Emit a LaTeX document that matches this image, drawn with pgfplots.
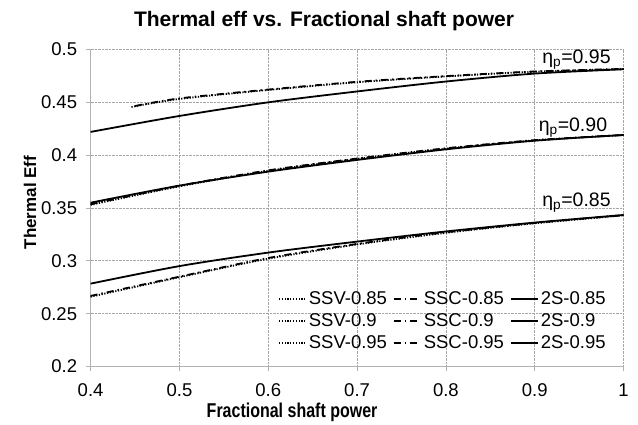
\documentclass[border=0pt]{standalone}
\usepackage{pgfplots}
\pgfplotsset{compat=1.18}
\usepackage{fontspec}
\setmainfont{Liberation Sans}
\newfontfamily\narrowbold[FakeStretch=0.8]{Liberation Sans Bold}
\begin{document}
\begin{tikzpicture}
\begin{axis}[
  scale only axis,
  width=533pt, height=317pt,
  xmin=0.4, xmax=1, ymin=0.2, ymax=0.5,
  xtick={0.4,0.5,0.6,0.7,0.8,0.9,1},
  ytick={0.2,0.25,0.3,0.35,0.4,0.45,0.5},
  /pgf/number format/assume math mode=true,
  tick label style={font=\fontsize{18.5}{20}\selectfont},
  yticklabel style={xshift=-5pt},
  xticklabel style={yshift=-9pt},
  grid=major,
  grid style={densely dotted, gray!70, line width=0.8pt},
  axis lines=left,
  axis line style={-, gray!60, line width=1pt},
  tick align=outside,
  major tick length=5pt,
  tick style={gray!60, line width=0.8pt},
  title={Thermal eff vs. Fractional shaft power},
  title style={font=\bfseries\fontsize{21}{24}\selectfont, at={(0.438,1.072)}, anchor=center},
  xlabel={Fractional shaft power},
  xlabel style={font=\narrowbold\fontsize{20}{22}\selectfont, at={(0.378,-0.1435)}, anchor=center},
  ylabel={Thermal Eff},
  ylabel style={font=\bfseries\fontsize{17}{20}\selectfont, at={(-0.1137,0.517)}, anchor=center},
  legend columns=3,
  legend cell align=left,
  legend style={draw=none, fill=none, font=\fontsize{18.5}{20}\selectfont,
     at={(axis cs:0.6108,0.2726)}, anchor=north west,
     row sep=3.5pt, inner sep=0pt,
     /tikz/every even column/.append style={column sep=4pt}},
  legend image code/.code={\draw[#1] (0pt,0pt) -- (27pt,0pt);},
  clip=false,
]
\pgfplotsset{
  ssv/.style={black, line width=1.8pt, dash pattern=on 1.2pt off 1.6pt, smooth},
  ssc/.style={black, line width=1.8pt, dash pattern=on 7pt off 4pt on 1.5pt off 4pt, smooth},
  tws/.style={black, line width=1.8pt, solid, smooth},
}
% eta_p = 0.85
\addplot[ssv] coordinates {(0.4,0.2660) (0.5,0.2845) (0.6,0.3020) (0.7,0.3155) (0.8,0.3265) (0.9,0.3355) (1.0,0.3430)};
\addlegendentry{SSV-0.85}
\addplot[ssc] coordinates {(0.4,0.2668) (0.5,0.2850) (0.6,0.3027) (0.7,0.3160) (0.8,0.3270) (0.9,0.3358) (1.0,0.3432)};
\addlegendentry{SSC-0.85}
\addplot[tws] coordinates {(0.4,0.2784) (0.5,0.2950) (0.6,0.3078) (0.7,0.3182) (0.8,0.3278) (0.9,0.3362) (1.0,0.3434)};
\addlegendentry{2S-0.85}
% eta_p = 0.90
\addplot[ssv] coordinates {(0.4,0.3530) (0.5,0.3705) (0.6,0.3852) (0.7,0.3965) (0.8,0.4062) (0.9,0.4140) (1.0,0.4190)};
\addlegendentry{SSV-0.9}
\addplot[ssc] coordinates {(0.4,0.3535) (0.5,0.3710) (0.6,0.3856) (0.7,0.3968) (0.8,0.4065) (0.9,0.4142) (1.0,0.4191)};
\addlegendentry{SSC-0.9}
\addplot[tws] coordinates {(0.4,0.3550) (0.5,0.3712) (0.6,0.3844) (0.7,0.3955) (0.8,0.4055) (0.9,0.4137) (1.0,0.4191)};
\addlegendentry{2S-0.9}
% eta_p = 0.95
\addplot[ssv] coordinates {(0.446,0.4456) (0.5,0.4532) (0.6,0.4617) (0.7,0.4690) (0.8,0.4745) (0.9,0.4790) (1.0,0.4815)};
\addlegendentry{SSV-0.95}
\addplot[ssc] coordinates {(0.450,0.4465) (0.5,0.4537) (0.6,0.4621) (0.7,0.4694) (0.8,0.4748) (0.9,0.4792) (1.0,0.4816)};
\addlegendentry{SSC-0.95}
\addplot[tws] coordinates {(0.4,0.4220) (0.5,0.4371) (0.6,0.4500) (0.7,0.4603) (0.8,0.4697) (0.9,0.4772) (1.0,0.4813)};
\addlegendentry{2S-0.95}
\node[font=\fontsize{19.5}{20}\selectfont, inner sep=0pt] at (axis cs:0.947,0.4905) {η\textsubscript{p}=0.95};
\node[font=\fontsize{19.5}{20}\selectfont, inner sep=0pt] at (axis cs:0.943,0.4264) {η\textsubscript{p}=0.90};
\node[font=\fontsize{19.5}{20}\selectfont, inner sep=0pt] at (axis cs:0.947,0.3550) {η\textsubscript{p}=0.85};
\coordinate (O) at (rel axis cs:0,0);
\end{axis}
\pgfresetboundingbox
\path (O) ++(-90.6pt,-58.5pt) rectangle ++(638pt,425pt);
\end{tikzpicture}
\end{document}
